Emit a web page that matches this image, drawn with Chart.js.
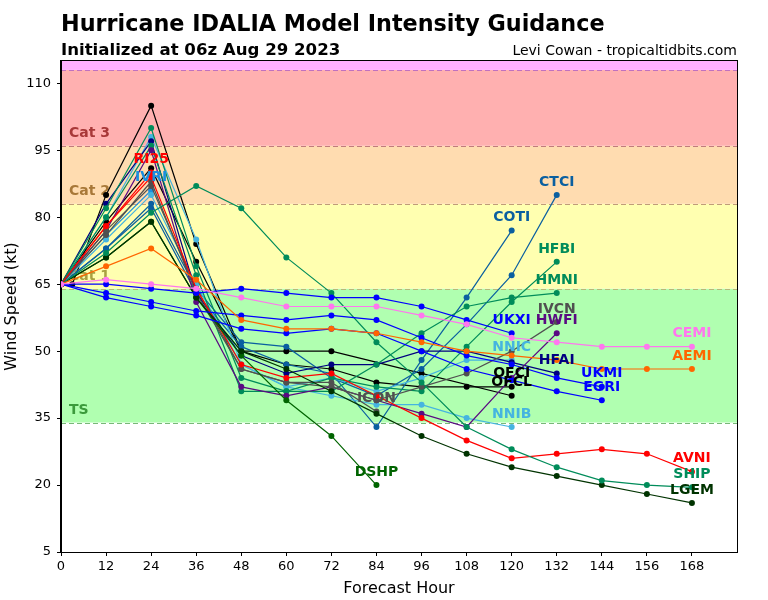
<!DOCTYPE html>
<html><head><meta charset="utf-8">
<script src="https://cdn.jsdelivr.net/npm/chart.js@4/dist/chart.umd.min.js"></script>
<style>html,body{margin:0;padding:0;background:#fff}</style>
</head><body>
<canvas id="c" width="768" height="600" style="width:768px;height:600px;display:block"></canvas>
<script>
// ---- data ----
const HOURS = [0,12,24,36,48,60,72,84,96,108,120,132,144,156,168];
const OFCL_HOURS = [3,12,24,36,48,60,72,96,120];
const X_TICKS = [0,12,24,36,48,60,72,84,96,108,120,132,144,156,168];
const Y_TICKS = [5,20,35,50,65,80,95,110];
const BAND_LIMITS = [34,64,83,96,113];
const BAND_NAMES = ['TS','Cat 1','Cat 2','Cat 3'];

const OFCL = [65,85,105,74,50,50,50,45,40];
const OFCI = [65,79,91,70,50,47,46,43,42,42,42];
const RI25 = [65,78,90];
const IVRI = [65,76,86];
const HMNI = [65,82,100,69,44,41,41,47,54,60,62,63];
const HFBI = [65,80,96,67,41,41,44,42,41,51,61,70];
const HFAI = [65,83,97,63,49,45,47,47,50,50,47.5,45];
const NNIB = [65,80,98,75,47,42,40,38,38,35,33];
const NNIC = [65,75,85,65,47,42,44,41,44,48,48];
const CTCI = [65,73,83,64,52,51,44,40,46,56,67,85];
const COTI = [65,73,82,63,51,47,45,33,48,62,77];
const SHIP = [65,72,81,87,82,71,63,52,43,33,28,24,21,20,19.5];
const DSHP = [65,71,79,62,49,39,31,20];
const LGEM = [65,71,79,62,50,46,41,36,31,27,24,22,20,18,16];
const AVNI = [65,78,89,64,47,44,45,40,35,30,26,27,28,27,23];
const IVCN = [65,77,87,64,46,43,42,39,42,45,50,56.5];
const ICON = [65,76,88,63,46,43,43,36.5];
const HWFI = [65,77,95,61,42,40,42,39,36,33,44,54];
const UKXI = [65,65,64,63,64,63,62,62,60,57,54];
const UKMI = [65,63,61,59,58,57,58,57,53,49,47,44,42];
const EGRI = [65,62,60,58,55,54,55,54,50,46,43.5,41,39];
const CEMI = [65,66,65,64,62,60,60,60,58,56,53,52,51,51,51];
const AEMI = [65,69,73,66,57,55,55,54,52,50,49,48,46,46,46];

// ---- styles ----
const COLORS = {
  OFCL:'#000000', OFCI:'#000000', RI25:'#ff0000', IVRI:'#1a8fe0',
  HMNI:'#008c5a', HFBI:'#008c5a', HFAI:'#000080', NNIB:'#45b4e0', NNIC:'#45b4e0',
  CTCI:'#0a5fa0', COTI:'#0a5fa0', SHIP:'#008c5a', DSHP:'#006400', LGEM:'#003300',
  AVNI:'#ff0000', IVCN:'#505050', ICON:'#505050', HWFI:'#5a0a82',
  UKXI:'#0000ff', UKMI:'#0000ff', EGRI:'#0000ff', CEMI:'#ff77ee', AEMI:'#ff6600'
};
const SERIES = [
  ['CEMI',HOURS,CEMI],['AEMI',HOURS,AEMI],['UKXI',HOURS,UKXI],['UKMI',HOURS,UKMI],['EGRI',HOURS,EGRI],
  ['SHIP',HOURS,SHIP],['LGEM',HOURS,LGEM],['DSHP',HOURS,DSHP],['AVNI',HOURS,AVNI],
  ['IVCN',HOURS,IVCN],['ICON',HOURS,ICON],['HWFI',HOURS,HWFI],['HMNI',HOURS,HMNI],['HFBI',HOURS,HFBI],
  ['HFAI',HOURS,HFAI],['NNIB',HOURS,NNIB],['NNIC',HOURS,NNIC],['CTCI',HOURS,CTCI],['COTI',HOURS,COTI],
  ['RI25',HOURS,RI25],['IVRI',HOURS,IVRI],['OFCI',HOURS,OFCI],['OFCL',OFCL_HOURS,OFCL]
];
const BAND_FILL = ['#b0ffb0','#ffffb0','#ffdcb0','#ffb0b0','#ffb0ff'];
const BAND_LINE = ['#78b878','#b8b878','#c09c78','#c07c7c','#c070c0'];
const BAND_TEXT = ['#3c9a3c','#a8a040','#a87838','#a83838'];

const datasets = SERIES.map(([name,hrs,vals]) => ({
  label: name,
  data: vals.map((v,i)=>({x:hrs[i],y:v})).filter(p=>p.y!=null),
  borderColor: COLORS[name], backgroundColor: COLORS[name],
  borderWidth: 1.2, pointRadius: 3, pointHoverRadius: 3, pointBorderWidth: 0,
  tension: 0, fill: false
}));

const FONT = '"DejaVu Sans", sans-serif';

const bgPlugin = {
  id:'bg',
  beforeDraw(chart){
    const {ctx, chartArea:a, scales:{y}} = chart;
    ctx.save();
    ctx.fillStyle='#fff'; ctx.fillRect(0,0,chart.width,chart.height);
    ctx.beginPath(); ctx.rect(a.left,a.top,a.right-a.left,a.bottom-a.top); ctx.clip();
    const lims = BAND_LIMITS.concat([200]);
    for(let i=0;i<lims.length-1;i++){
      const y1=y.getPixelForValue(lims[i]), y2=y.getPixelForValue(lims[i+1]);
      ctx.fillStyle=BAND_FILL[i]; ctx.fillRect(a.left,y2,a.right-a.left,y1-y2);
    }
    ctx.setLineDash([5,3]); ctx.lineWidth=1.2;
    BAND_LIMITS.forEach((v,i)=>{
      const py=Math.round(y.getPixelForValue(v))+0.5;
      ctx.strokeStyle=BAND_LINE[i]; ctx.beginPath(); ctx.moveTo(a.left,py); ctx.lineTo(a.right,py); ctx.stroke();
    });
    ctx.setLineDash([]);
    ctx.font='bold 14px '+FONT; ctx.textBaseline='alphabetic'; ctx.textAlign='left';
    BAND_NAMES.forEach((n,i)=>{
      ctx.fillStyle=BAND_TEXT[i];
      ctx.fillText(n, a.left+8, y.getPixelForValue(BAND_LIMITS[i])-9);
    });
    ctx.restore();
  },
  afterDatasetsDraw(chart){
    const {ctx, chartArea:a} = chart;
    ctx.save();
    ctx.font='bold 14px '+FONT; ctx.textAlign='center'; ctx.textBaseline='middle';
    chart.data.datasets.forEach((ds,i)=>{
      const meta=chart.getDatasetMeta(i);
      const last=meta.data[meta.data.length-1];
      ctx.fillStyle=ds.borderColor;
      ctx.fillText(ds.label, last.x, last.y-13);
    });
    ctx.strokeStyle='#000'; ctx.lineWidth=1;
    ctx.strokeRect(Math.round(a.left)-0.5, Math.round(a.top)-0.5, Math.round(a.right-a.left)+1, Math.round(a.bottom-a.top)+1);
    ctx.restore();
  },
  afterDraw(chart){
    const ctx=chart.ctx;
    ctx.save();
    ctx.fillStyle='#000'; ctx.textBaseline='alphabetic';
    ctx.textAlign='left';
    ctx.font='bold 22.3px '+FONT; ctx.fillText('Hurricane IDALIA Model Intensity Guidance', 61, 31);
    ctx.font='bold 16.6px '+FONT; ctx.fillText('Initialized at 06z Aug 29 2023', 61, 55);
    ctx.textAlign='right';
    ctx.font='14px '+FONT; ctx.fillText('Levi Cowan - tropicaltidbits.com', 737, 55);
    ctx.restore();
  }
};

new Chart(document.getElementById('c'), {
  type:'line',
  data:{datasets},
  options:{
    responsive:false, animation:false, devicePixelRatio:1,
    layout:{padding:{top:61,right:31,left:0,bottom:0}},
    plugins:{legend:{display:false}, tooltip:{enabled:false}, title:{display:false}},
    scales:{
      x:{type:'linear', min:0, max:180,
        afterBuildTicks:s=>{s.ticks=X_TICKS.map(v=>({value:v}));},
        afterFit:s=>{s.height=48;},
        ticks:{color:'#000', font:{size:13,family:FONT}, padding:3, maxRotation:0, autoSkip:false},
        grid:{display:true, drawOnChartArea:false, drawTicks:true, tickLength:4, color:'#000'},
        border:{display:true,color:'#000',width:1},
        title:{display:true,text:'Forecast Hour',color:'#000',font:{size:16,family:FONT},padding:{top:0,bottom:2}}
      },
      y:{type:'linear', min:5, max:115,
        afterBuildTicks:s=>{s.ticks=Y_TICKS.map(v=>({value:v}));},
        afterFit:s=>{s.width=61;},
        ticks:{color:'#000', font:{size:13,family:FONT}, padding:6},
        grid:{display:true, drawOnChartArea:false, drawTicks:true, tickLength:4, color:'#000'},
        border:{display:true,color:'#000',width:1},
        title:{display:true,text:'Wind Speed (kt)',color:'#000',font:{size:16,family:FONT},padding:{top:2,bottom:0}}
      }
    }
  },
  plugins:[bgPlugin]
});
</script>
</body></html>
